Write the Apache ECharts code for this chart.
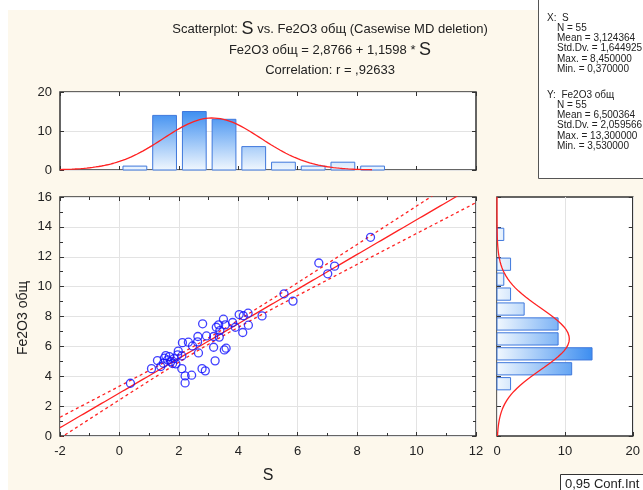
<!DOCTYPE html>
<html><head><meta charset="utf-8">
<script src="https://cdn.jsdelivr.net/npm/echarts@6/dist/echarts.min.js"></script>
<style>html,body{margin:0;padding:0;background:#fff}#c{width:643px;height:490px}</style>
</head><body><div id="c"></div>
<script>
// ---- data ----
const sVals  = [0.37,1.08,1.28,1.39,1.48,1.51,1.56,1.62,1.68,1.73,1.79,1.84,1.90,1.96,1.98,
                2.10,2.12,2.10,2.21,2.21,2.32,2.43,2.46,2.64,2.63,2.66,2.80,2.78,2.89,2.93,
                3.17,3.17,3.22,3.26,3.34,3.36,3.38,3.50,3.56,3.53,3.59,3.81,3.90,
                4.03,4.15,4.17,4.33,4.34,4.80,5.54,5.84,6.71,7.01,7.24,8.45];
const feVals = [3.53,4.51,5.05,4.65,4.87,5.21,5.38,5.09,5.32,4.98,4.85,5.18,4.83,5.43,5.68,
                5.36,6.25,4.51,4.02,3.55,6.28,4.07,6.03,6.66,6.30,5.56,7.51,4.51,4.36,6.70,
                6.66,5.94,5.03,7.28,7.44,6.62,7.06,7.82,7.44,5.76,5.88,7.60,7.28,
                8.13,6.93,8.05,8.22,7.42,8.04,9.52,9.03,11.58,10.86,11.37,13.30];
const sBinStarts  = [0,1,2,3,4,5,6,7,8];
const sBinCounts  = [1,14,15,13,6,2,1,2,1];
const feBinStarts = [3,4,5,6,7,8,9,10,11,12,13];
const feBinCounts = [2,11,14,9,9,4,2,1,2,0,1];
const regCoef = [2.8766, 1.1598];          // intercept, slope
const sStats  = {n:55, mean:3.124364, sd:1.644925, max:8.45, min:0.37};
const feStats = {n:55, mean:6.500364, sd:2.059566, max:13.3, min:3.53};
const corrR = 0.92633;
const tCrit = 2.006;
const xTicks = [-2,12,2], yTicks = [0,16,2], histTicks = [0,20,10];
const sStatLines  = ['N = 55','Mean = 3,124364','Std.Dv. = 1,644925','Max. = 8,450000','Min. = 0,370000'];
const feStatLines = ['N = 55','Mean = 6,500364','Std.Dv. = 2,059566','Max. = 13,300000','Min. = 3,530000'];

// ---- derived curves ----
function npdf(x,m,s){return Math.exp(-0.5*((x-m)/s)**2)/(s*Math.sqrt(2*Math.PI));}
const scatterData = sVals.map((v,i)=>[v,feVals[i]]);
const regLine=[], upBand=[], loBand=[];
const nn=sStats.n;
const sRes = feStats.sd*Math.sqrt(1-corrR*corrR)*Math.sqrt((nn-1)/(nn-2));
const sxx = (nn-1)*sStats.sd*sStats.sd;
for(let x=-2;x<=12.001;x+=0.1){
  const y=regCoef[0]+regCoef[1]*x;
  const h=tCrit*sRes*Math.sqrt(1/nn+(x-sStats.mean)**2/sxx);
  regLine.push([x,y]); upBand.push([x,y+h]); loBand.push([x,y-h]);
}
const topCurve=[];
for(let x=-2;x<=8.5001;x+=0.1) topCurve.push([x, sStats.n*npdf(x,sStats.mean,sStats.sd)]);
const rightCurve=[];
for(let y=0;y<=16.001;y+=0.1) rightCurve.push([feStats.n*npdf(y,feStats.mean,feStats.sd), y]);

const FONT='Liberation Sans, Arial, sans-serif';
const INK='#222';
const chart=echarts.init(document.getElementById('c'),null,{renderer:'canvas'});

function tickAx(extra){
  return Object.assign({type:'value',axisLine:{show:false,onZero:false},
    axisTick:{show:true,inside:true,length:4,lineStyle:{color:'#333'}},
    axisLabel:{show:false},splitLine:{show:false}},extra);
}
const labelStyle={show:true,color:INK,fontSize:13,fontFamily:FONT};
const gridStyle={show:true,backgroundColor:'#fff',borderColor:'#333',borderWidth:1.5};

const topGrad={type:'linear',x:0,y:170,x2:0,y2:110,global:true,
  colorStops:[{offset:0,color:'#f0f7fe'},{offset:1,color:'#3a8cf0'}]};
const rightGrad={type:'linear',x:497,y:0,x2:594,y2:0,global:true,
  colorStops:[{offset:0,color:'#f0f7fe'},{offset:1,color:'#3a8cf0'}]};

const option={
  backgroundColor:'#fff',
  animation:false,
  grid:[
    Object.assign({left:60,top:92,width:416,height:78},gridStyle),
    Object.assign({left:60,top:197,width:416,height:239},gridStyle),
    Object.assign({left:497,top:197,width:139,height:239},gridStyle)
  ],
  xAxis:[
    tickAx({gridIndex:0,min:xTicks[0],max:xTicks[1],interval:xTicks[2],position:'bottom'}),
    tickAx({gridIndex:0,min:xTicks[0],max:xTicks[1],interval:xTicks[2],position:'top'}),
    tickAx({gridIndex:1,min:xTicks[0],max:xTicks[1],interval:xTicks[2],position:'bottom',
      axisLabel:Object.assign({margin:9},labelStyle),
      splitLine:{show:true,lineStyle:{color:'#e3e3e3',width:1}},
      minorTick:{show:true,splitNumber:2,length:3,lineStyle:{color:'#333'}}}),
    tickAx({gridIndex:1,min:xTicks[0],max:xTicks[1],interval:xTicks[2],position:'top',
      minorTick:{show:true,splitNumber:2,length:3,lineStyle:{color:'#333'}}}),
    tickAx({gridIndex:2,min:histTicks[0],max:histTicks[1],interval:histTicks[2],position:'bottom',
      axisLabel:Object.assign({margin:9},labelStyle),
      splitLine:{show:true,lineStyle:{color:'#e3e3e3',width:1}}})
  ],
  yAxis:[
    tickAx({gridIndex:0,min:histTicks[0],max:histTicks[1],interval:histTicks[2],position:'left',
      axisLabel:Object.assign({margin:8},labelStyle),
      splitLine:{show:true,lineStyle:{color:'#e3e3e3',width:1}}}),
    tickAx({gridIndex:0,min:histTicks[0],max:histTicks[1],interval:histTicks[2],position:'right'}),
    tickAx({gridIndex:1,min:yTicks[0],max:yTicks[1],interval:yTicks[2],position:'left',
      axisLabel:Object.assign({margin:8},labelStyle),
      splitLine:{show:true,lineStyle:{color:'#e3e3e3',width:1}},
      minorTick:{show:true,splitNumber:2,length:3,lineStyle:{color:'#333'}}}),
    tickAx({gridIndex:1,min:yTicks[0],max:yTicks[1],interval:yTicks[2],position:'right',
      minorTick:{show:true,splitNumber:2,length:3,lineStyle:{color:'#333'}}}),
    tickAx({gridIndex:2,min:yTicks[0],max:yTicks[1],interval:yTicks[2],position:'left'}),
    tickAx({gridIndex:2,min:yTicks[0],max:yTicks[1],interval:yTicks[2],position:'right'})
  ],
  series:[
    {type:'custom',xAxisIndex:0,yAxisIndex:0,
     data:sBinStarts.map((s,i)=>[s,s+1,sBinCounts[i]]),
     renderItem:function(params,api){
       const a=api.coord([api.value(0)+0.12,api.value(2)]);
       const b=api.coord([api.value(1)-0.08,0]);
       return {type:'rect',shape:{x:a[0],y:a[1],width:b[0]-a[0],height:b[1]-a[1]},
         style:{fill:topGrad,stroke:'#3f78dc',lineWidth:1}};
     }},
    {type:'line',xAxisIndex:0,yAxisIndex:0,data:topCurve,showSymbol:false,smooth:false,
     lineStyle:{color:'#ff2222',width:1.3},z:5},
    {type:'custom',xAxisIndex:4,yAxisIndex:4,
     data:feBinStarts.map((s,i)=>[s,s+1,feBinCounts[i]]).filter(d=>d[2]>0),
     renderItem:function(params,api){
       const a=api.coord([0,api.value(1)-0.09]);
       const b=api.coord([api.value(2),api.value(0)+0.09]);
       return {type:'rect',shape:{x:a[0],y:a[1],width:b[0]-a[0],height:b[1]-a[1]},
         style:{fill:rightGrad,stroke:'#3f78dc',lineWidth:1}};
     }},
    {type:'line',xAxisIndex:4,yAxisIndex:4,data:rightCurve,showSymbol:false,
     lineStyle:{color:'#ff2222',width:1.3},z:5},
    {type:'line',xAxisIndex:2,yAxisIndex:2,data:regLine,showSymbol:false,clip:true,
     lineStyle:{color:'#ff2222',width:1.3}},
    {type:'line',xAxisIndex:2,yAxisIndex:2,data:upBand,showSymbol:false,clip:true,
     lineStyle:{color:'#ff2222',width:1.3,type:[3,3]}},
    {type:'line',xAxisIndex:2,yAxisIndex:2,data:loBand,showSymbol:false,clip:true,
     lineStyle:{color:'#ff2222',width:1.3,type:[3,3]}},
    {type:'scatter',xAxisIndex:2,yAxisIndex:2,data:scatterData,symbol:'circle',symbolSize:8,
     itemStyle:{color:'rgba(0,0,0,0)',borderColor:'#1010ff',borderWidth:1.3},z:4}
  ],
  graphic:[]
};

const g=option.graphic;
// cream page background
g.push({type:'rect',z:-10,silent:true,shape:{x:8,y:10,width:640,height:485},style:{fill:'#fdf8ec'}});
// stats box
g.push({type:'rect',z:-5,shape:{x:538.5,y:-2,width:110,height:180.5},style:{fill:'#fff',stroke:'#555',lineWidth:1}});
function txt(x,y,text,size,extra){
  g.push(Object.assign({type:'text',x:x,y:y,style:Object.assign({text:text,font:size+'px '+FONT,fill:INK,verticalAlign:'middle',align:'left'},extra||{})}));
}
txt(547,18,'X:  S',10);
sStatLines.forEach((t,i)=>txt(557,28.3+i*10.2,t,10));
txt(547,95,'Y:  Fe2O3 общ',10);
feStatLines.forEach((t,i)=>txt(557,105.3+i*10.2,t,10));
// titles
g.push({type:'text',x:330,y:29,style:{text:'{a|Scatterplot: }{b|S}{a| vs. Fe2O3 общ (Casewise MD deletion)}',
  align:'center',verticalAlign:'middle',rich:{a:{font:'13px '+FONT,fill:INK},b:{font:'18px '+FONT,fill:INK}}}});
g.push({type:'text',x:330,y:50,style:{text:'{a|Fe2O3 общ = 2,8766 + 1,1598 * }{b|S}',
  align:'center',verticalAlign:'middle',rich:{a:{font:'13px '+FONT,fill:INK},b:{font:'18px '+FONT,fill:INK}}}});
txt(330,70,'Correlation: r = ,92633',13,{align:'center'});
// axis titles
txt(268,476,'S',16,{align:'center'});
g.push({type:'text',x:23,y:318,rotation:Math.PI/2,style:{text:'Fe2O3 общ',font:'14px '+FONT,fill:INK,align:'center',verticalAlign:'middle'}});
// conf int legend box
g.push({type:'rect',shape:{x:560.5,y:474.5,width:90,height:19},style:{fill:'#fff',stroke:'#333',lineWidth:1}});
txt(565,484.5,'0,95 Conf.Int',13);

chart.setOption(option);
</script></body></html>
